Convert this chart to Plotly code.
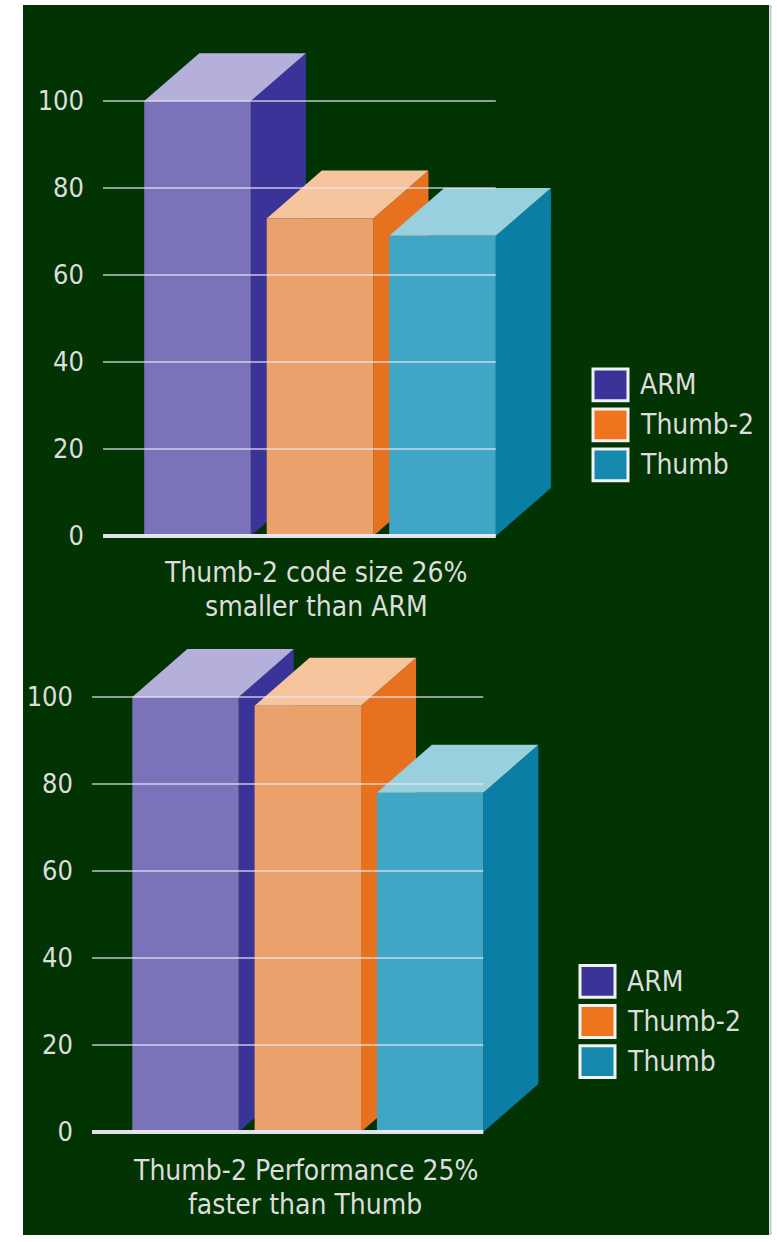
import plotly.graph_objects as go

W, H = 777, 1242

# ---------------- data ----------------
categories = ["ARM", "Thumb-2", "Thumb"]
code_size = [100, 73, 69]
performance = [100, 98, 78]
tick_vals = [0, 20, 40, 60, 80, 100]
tick_text = ["0", "20", "40", "60", "80", "100"]
caption_code = ["Thumb-2 code size 26%", "smaller than ARM"]
caption_perf = ["Thumb-2 Performance 25%", "faster than Thumb"]

# ---------------- style ----------------
front_colors = ["#7b73b9", "#eba16b", "#3fa6c5"]
top_colors = ["#b5afdc", "#f6c49d", "#99d0de"]
side_colors = ["#3a3499", "#e8711f", "#0a7ea4"]
legend_colors = ["#3a3398", "#ee741e", "#1488ad"]
BG = "#023302"
FONT = "DejaVu Sans Condensed, DejaVu Sans, sans-serif"
TEXT = "#dddddd"

BAR_W = 0.87      # bar width in category units
DEPTH_X = 0.45    # 3D depth offset (category units)
DEPTH_Y = 11.0    # 3D depth offset (value units)
PX_PER_UNIT = 4.374
Y_MIN, Y_MAX = -2, 114

panels = [
    dict(vals=code_size, xa="x", ya="y", c0=197.5, pitch=122.5, left=103, right=575,
         zero=539.0, caption=caption_code, cap_x=316, cap_y=[576, 610],
         leg_x=593, leg_y=371),
    dict(vals=performance, xa="x2", ya="y2", c0=185.5, pitch=122.3, left=92, right=565,
         zero=1138.3, caption=caption_perf, cap_x=305, cap_y=[1177, 1211],
         leg_x=580, leg_y=971),
]

fig = go.Figure()
shapes = []
annotations = []

# background panel
shapes.append(dict(type="rect", xref="paper", yref="paper", x0=23 / W, x1=769 / W,
                   y0=1 - 1242 / H, y1=1 - 5 / H, fillcolor=BG, line=dict(width=0),
                   layer="below"))
shapes.append(dict(type="line", xref="paper", yref="paper", x0=770.5 / W, x1=770.5 / W,
                   y0=0, y1=1 - 5 / H, line=dict(color="#c4c4c4", width=2), layer="below"))

layout_axes = {}
for k, p in enumerate(panels):
    xa, ya = p["xa"], p["ya"]
    xr0 = (p["left"] - p["c0"]) / p["pitch"]
    xr1 = (p["right"] - p["c0"]) / p["pitch"]
    bot_px = p["zero"] - Y_MIN * PX_PER_UNIT
    top_px = p["zero"] - Y_MAX * PX_PER_UNIT
    xname = "xaxis" if xa == "x" else "xaxis2"
    yname = "yaxis" if ya == "y" else "yaxis2"
    layout_axes[xname] = dict(domain=[p["left"] / W, p["right"] / W], range=[xr0, xr1],
                              visible=False, anchor=ya, fixedrange=True)
    layout_axes[yname] = dict(domain=[1 - bot_px / H, 1 - top_px / H], range=[Y_MIN, Y_MAX],
                              anchor=xa, showgrid=False, zeroline=False, showline=False,
                              tickvals=tick_vals, ticktext=tick_text, ticks="",
                              ticklabelstandoff=18,
                              tickfont=dict(family=FONT, size=27, color=TEXT),
                              fixedrange=True)

    # 3D bars: side, top, front for each category in order
    for i, v in enumerate(p["vals"]):
        xl, xr = i - BAR_W / 2, i + BAR_W / 2
        faces = [
            ([xr, xr + DEPTH_X, xr + DEPTH_X, xr, xr], [0, DEPTH_Y, v + DEPTH_Y, v, 0], side_colors[i]),
            ([xl, xl + DEPTH_X, xr + DEPTH_X, xr, xl], [v, v + DEPTH_Y, v + DEPTH_Y, v, v], top_colors[i]),
            ([xl, xl, xr, xr, xl], [0, v, v, 0, 0], front_colors[i]),
        ]
        for fx, fy, col in faces:
            fig.add_trace(go.Scatter(x=fx, y=fy, xaxis=xa, yaxis=ya, mode="lines",
                                     fill="toself", fillcolor=col, line=dict(width=0),
                                     hoverinfo="skip", showlegend=False))

    # gridlines drawn over the bars
    gx_end = len(categories) - 1 + BAR_W / 2
    gx, gy = [], []
    for t in tick_vals:
        if t == 0:
            continue
        gx += [xr0, gx_end, None]
        gy += [t, t, None]
    fig.add_trace(go.Scatter(x=gx, y=gy, xaxis=xa, yaxis=ya, mode="lines",
                             line=dict(color="rgba(235,232,245,0.6)", width=2),
                             hoverinfo="skip", showlegend=False))
    fig.add_trace(go.Scatter(x=[xr0, gx_end], y=[0, 0], xaxis=xa, yaxis=ya, mode="lines",
                             line=dict(color="rgba(238,235,248,0.95)", width=4),
                             hoverinfo="skip", showlegend=False))

    # caption
    for line, cy in zip(p["caption"], p["cap_y"]):
        annotations.append(dict(text=line, xref="paper", yref="paper", x=p["cap_x"] / W,
                                y=1 - cy / H, xanchor="center", yanchor="middle",
                                showarrow=False, font=dict(family=FONT, size=28, color=TEXT)))

    # custom legend
    for j, name in enumerate(categories):
        by0 = p["leg_y"] + j * 40.3
        by1 = by0 + 32
        shapes.append(dict(type="rect", xref="paper", yref="paper",
                           x0=p["leg_x"] / W, x1=(p["leg_x"] + 35) / W,
                           y0=1 - by1 / H, y1=1 - by0 / H,
                           fillcolor=legend_colors[j], line=dict(color="#f2f2f2", width=3)))
        annotations.append(dict(text=name, xref="paper", yref="paper",
                                x=(p["leg_x"] + 45) / W, y=1 - (by0 + 16) / H,
                                xanchor="left", yanchor="middle", showarrow=False,
                                font=dict(family=FONT, size=28, color=TEXT)))

fig.update_layout(width=W, height=H, margin=dict(l=0, r=0, t=0, b=0),
                  paper_bgcolor="white", plot_bgcolor="rgba(0,0,0,0)",
                  showlegend=False, shapes=shapes, annotations=annotations,
                  **layout_axes)

fig.write_html("out.html", config={"displayModeBar": False})
